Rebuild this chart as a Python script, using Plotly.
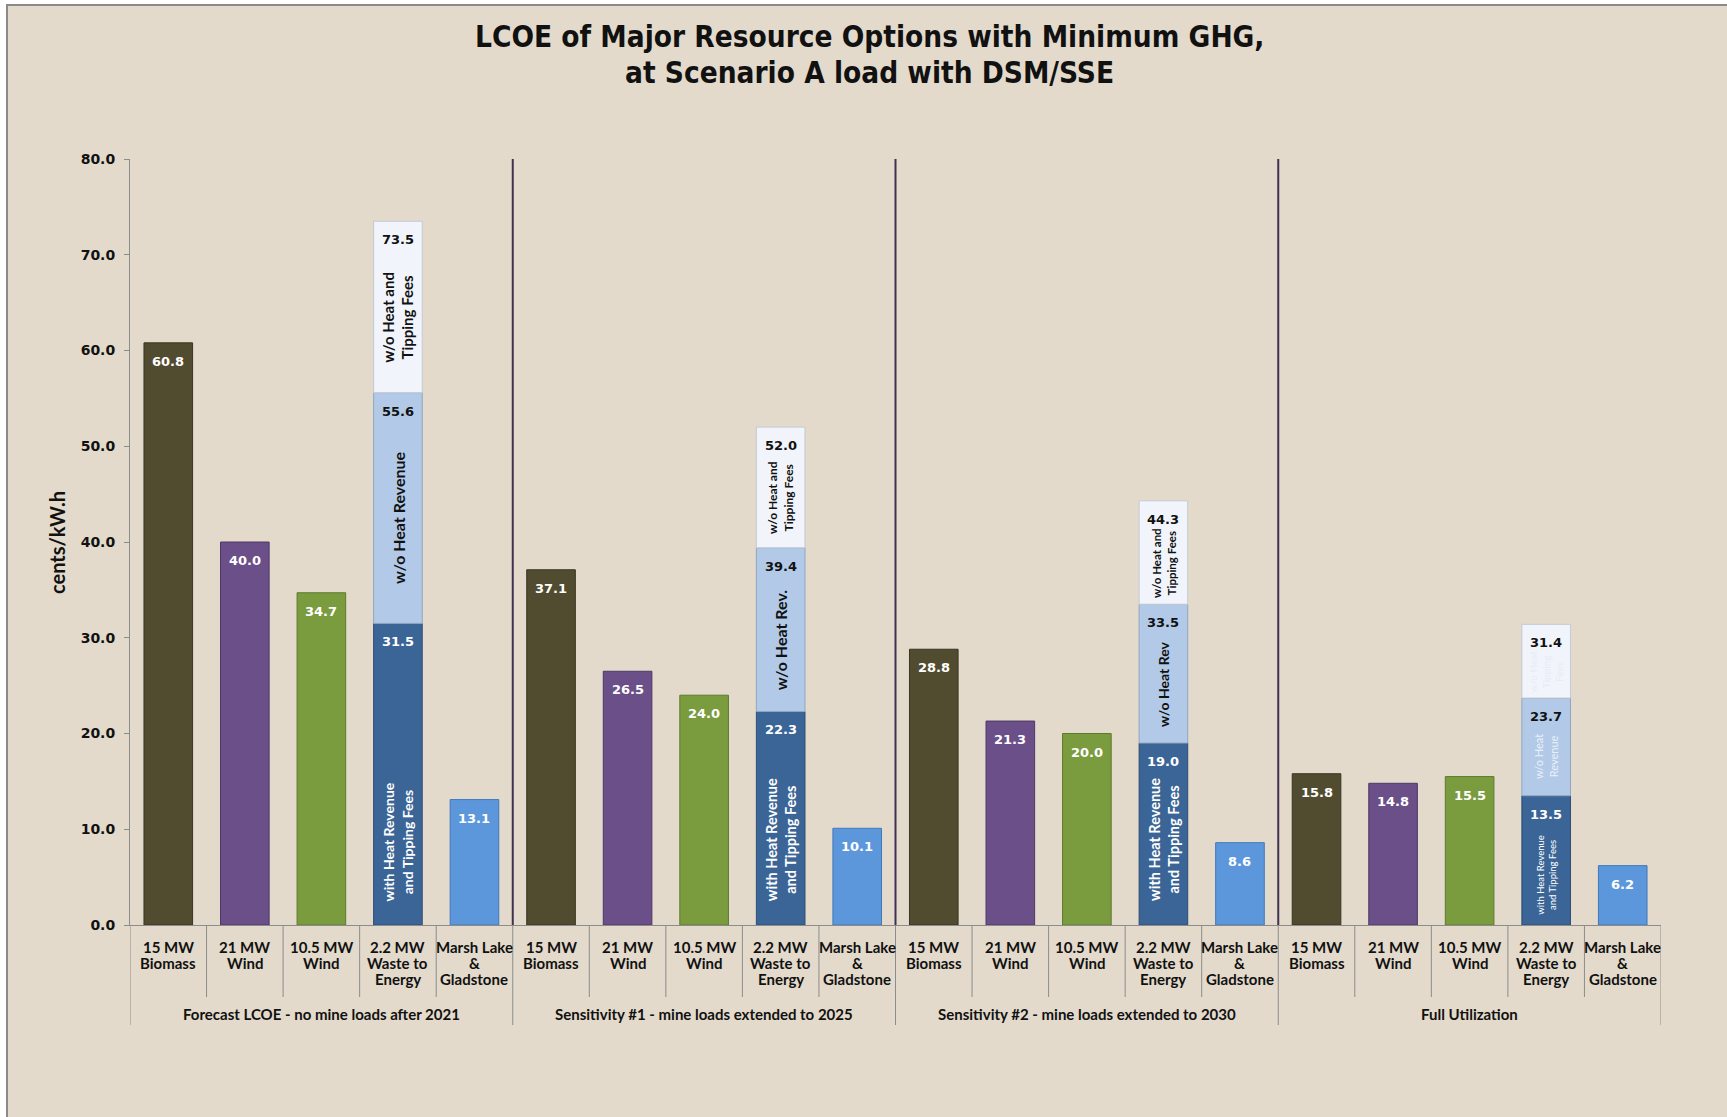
import plotly.graph_objects as go

# ---------------- data ----------------
groups = [
    "Forecast LCOE - no mine loads after 2021",
    "Sensitivity #1 - mine loads extended to 2025",
    "Sensitivity #2 - mine loads extended to 2030",
    "Full Utilization",
]
categories = [
    "15 MW<br>Biomass",
    "21 MW<br>Wind",
    "10.5 MW<br>Wind",
    "2.2 MW<br>Waste to<br>Energy",
    "Marsh Lake<br>&<br>Gladstone",
]
biomass = [60.8, 37.1, 28.8, 15.8]
wind21 = [40.0, 26.5, 21.3, 14.8]
wind105 = [34.7, 24.0, 20.0, 15.5]
wte_with_heat = [31.5, 22.3, 19.0, 13.5]          # cumulative totals
wte_no_heat = [55.6, 39.4, 33.5, 23.7]
wte_no_heat_tip = [73.5, 52.0, 44.3, 31.4]
marsh = [13.1, 10.1, 8.6, 6.2]

wte_base_labels = ["with Heat Revenue<br>and Tipping Fees"] * 4
wte_mid_labels = ["w/o Heat Revenue", "w/o Heat Rev.", "w/o Heat Rev", "w/o Heat<br>Revenue"]
wte_top_labels = ["w/o Heat and<br>Tipping Fees", "w/o Heat and<br>Tipping Fees",
                  "w/o Heat and<br>Tipping Fees", "w/o Heat<br>Tipping<br>Fees"]

# ---------------- styling ----------------
W, H = 1727, 1117
ML, MR, MT, MB = 130, 66, 159, 192
PW, PH = W - ML - MR, H - MT - MB
BG = "#E3DACB"
C_BIO, C_W21, C_W105 = "#514B30", "#6A4F88", "#7B9B3F"
C_WTE1, C_WTE2, C_WTE3, C_MARSH = "#3B6597", "#B2CAE8", "#F1F5FB", "#5C97DC"
LBL = "Lato, 'Noto Sans', sans-serif"
NUM = "'DejaVu Sans', Verdana, sans-serif"


def px_x(p):
    return (p - ML) / PW


def px_y(p):
    return (MT + PH - p) / PH


def key(g, c):
    return f"G{g + 1} | {categories[c].replace('<br>', ' ')}"


keys = [key(g, c) for g in range(len(groups)) for c in range(len(categories))]


def keys_for(c):
    return [key(g, c) for g in range(len(groups))]


fig = go.Figure()


def add_bar(xk, y, color, line, name, base=None):
    fig.add_trace(go.Bar(
        x=xk, y=y, base=base, name=name, marker=dict(color=color, line=dict(color=line, width=1)),
        hoverinfo="x+y", showlegend=False))


add_bar(keys_for(0), biomass, C_BIO, "#3A3520", "15 MW Biomass")
add_bar(keys_for(1), wind21, C_W21, "#4E3966", "21 MW Wind")
add_bar(keys_for(2), wind105, C_W105, "#5D7A2C", "10.5 MW Wind")
seg1 = wte_with_heat
seg2 = [b - a for a, b in zip(wte_with_heat, wte_no_heat)]
seg3 = [b - a for a, b in zip(wte_no_heat, wte_no_heat_tip)]
add_bar(keys_for(3), seg1, C_WTE1, "#2B4E78", "with Heat Revenue and Tipping Fees", base=[0] * 4)
add_bar(keys_for(3), seg2, C_WTE2, "#8FA6C2", "w/o Heat Revenue", base=wte_with_heat)
add_bar(keys_for(3), seg3, C_WTE3, "#C3CAD3", "w/o Heat and Tipping Fees", base=wte_no_heat)
add_bar(keys_for(4), marsh, C_MARSH, "#3F78BC", "Marsh Lake & Gladstone")

ann = []


def val_label(xk, v, color):
    ann.append(dict(x=xk, y=v, xref="x", yref="y", text=f"{v:.1f}", showarrow=False,
                    yanchor="top", yshift=-9,
                    font=dict(family=NUM, size=13, color=color, weight="bold")))


for g in range(4):
    val_label(key(g, 0), biomass[g], "white")
    val_label(key(g, 1), wind21[g], "white")
    val_label(key(g, 2), wind105[g], "white")
    val_label(key(g, 3), wte_with_heat[g], "white")
    val_label(key(g, 3), wte_no_heat[g], "#111111")
    val_label(key(g, 3), wte_no_heat_tip[g], "#111111")
    val_label(key(g, 4), marsh[g], "white")

# rotated segment labels
base_sizes = [14, 14.5, 14.5, 9.5]
mid_sizes = [16, 16, 14, 11]
top_sizes = [15, 12, 11.5, 10]
mid_colors = ["#111111", "#111111", "#111111", "#EAF0F8"]
top_colors = ["#111111", "#111111", "#111111", "#E6ECF4"]
mid_weight = ["bold", "bold", "bold", "normal"]
top_weight = ["bold", "bold", "bold", "normal"]
for g in range(4):
    xk = key(g, 3)
    ann.append(dict(x=xk, y=0, xref="x", yref="y", text=wte_base_labels[g], showarrow=False,
                    textangle=-90, yanchor="bottom", yshift=22 if g < 3 else 8,
                    font=dict(family=LBL, size=base_sizes[g], color="white", weight="bold" if g < 3 else "normal")))
    ann.append(dict(x=xk, y=(wte_with_heat[g] + wte_no_heat[g]) / 2, xref="x", yref="y",
                    text=wte_mid_labels[g], showarrow=False, textangle=-90, yshift=-10,
                    font=dict(family=LBL, size=mid_sizes[g], color=mid_colors[g], weight=mid_weight[g])))
    ann.append(dict(x=xk, y=(wte_no_heat[g] + wte_no_heat_tip[g]) / 2, xref="x", yref="y",
                    text=wte_top_labels[g], showarrow=False, textangle=-90, yshift=-10,
                    font=dict(family=LBL, size=top_sizes[g], color=top_colors[g], weight=top_weight[g])))

# category labels (one annotation per line for tight line spacing) and group labels
CAT_FIRST = 947 - (MT + PH)   # pixel offset of first line centre below the axis
CAT_STEP = 16
for g in range(4):
    for c in range(5):
        for li, line in enumerate(categories[c].split("<br>")):
            ann.append(dict(x=key(g, c), y=0, xref="x", yref="paper", text=line, showarrow=False,
                            yanchor="middle", yshift=-(CAT_FIRST + li * CAT_STEP),
                            font=dict(family=LBL, size=15, color="#111111", weight="bold")))
    ann.append(dict(x=key(g, 2), y=0, xref="x", yref="paper", text=groups[g], showarrow=False,
                    yanchor="middle", yshift=-(1014 - (MT + PH)),
                    font=dict(family=LBL, size=15, color="#111111", weight="bold")))

# y axis title
ann.append(dict(x=px_x(57), y=px_y(543), xref="paper", yref="paper", text="cents/kW.h", showarrow=False,
                xanchor="center", yanchor="middle",
                textangle=-90, font=dict(family=LBL, size=20, color="#111111", weight="bold")))

# title
TF = "'DejaVu Sans Condensed', 'DejaVu Sans', sans-serif"
for txt, ypx in (("LCOE of Major Resource Options with Minimum GHG,", 37),
                 ("at Scenario A load with DSM/SSE", 73)):
    ann.append(dict(x=px_x(869), y=px_y(ypx), xref="paper", yref="paper", text=txt, showarrow=False,
                    xanchor="center", yanchor="middle",
                    font=dict(family=TF, size=29.5, color="#111111", weight="bold")))

shapes = []
# outer frame
shapes.append(dict(type="rect", xref="paper", yref="paper", layer="below",
                   x0=px_x(7), x1=px_x(W + 10), y0=px_y(H + 10), y1=px_y(5),
                   fillcolor=BG, line=dict(color="#8A8A8A", width=2)))
n = len(keys)
for i in range(n + 1):
    long = (i % 5 == 0)
    shapes.append(dict(type="line", xref="x", yref="paper", x0=i - 0.5, x1=i - 0.5,
                       y0=0, y1=px_y(1025 if long else 997),
                       line=dict(color="#8C8C8C", width=1)))
for i in (5, 10, 15):
    shapes.append(dict(type="line", xref="x", yref="y", x0=i - 0.5, x1=i - 0.5, y0=0, y1=80,
                       line=dict(color="#3E3152", width=2), layer="above"))

fig.update_layout(
    width=W, height=H,
    margin=dict(l=ML, r=MR, t=MT, b=MB),
    paper_bgcolor="white", plot_bgcolor="white",
    barmode="overlay", bargap=0.365,
    annotations=ann, shapes=shapes,
    xaxis=dict(type="category", categoryorder="array", categoryarray=keys, range=[-0.5, n - 0.5],
               showticklabels=False, ticks="", showline=True, linecolor="#8C8C8C", linewidth=1,
               showgrid=False, zeroline=False, fixedrange=True),
    yaxis=dict(range=[0, 80], dtick=10, tickformat=".1f", ticks="outside", ticklen=5,
               tickcolor="#8C8C8C", showline=True, linecolor="#8C8C8C", linewidth=1,
               showgrid=False, zeroline=False, ticklabelstandoff=6,
               tickfont=dict(family=NUM, size=14, color="#111111", weight="bold")),
)

fig.write_html("out.html")
